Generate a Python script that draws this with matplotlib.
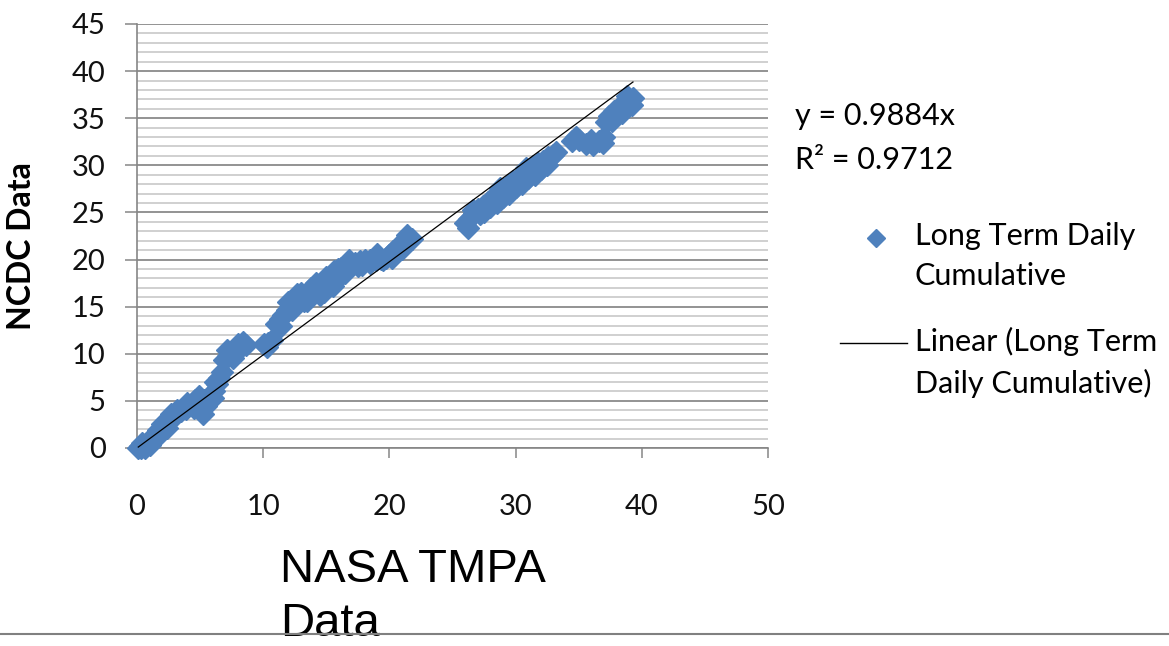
import numpy as np
import matplotlib
matplotlib.use('Agg')
from matplotlib import rc
import matplotlib.pyplot as plt
from matplotlib.lines import Line2D
from matplotlib.ticker import MultipleLocator

rc('font', **{'family': 'Lato', 'size': 21})

# NASA TMPA (x) vs NCDC (y), long term daily cumulative
nasa_tmpa = [0.1, 0.2, 0.3, 0.5, 0.4, 0.7, 0.9, 1.1, 1.3, 1.5, 1.7, 2.0, 2.2, 2.5, 2.8, 3.0, 3.2,
             0.6, 1.0, 1.6, 2.4, 2.0, 2.7,
             3.5, 3.9, 4.3, 4.6, 4.9, 5.0, 5.2, 5.5, 5.8, 6.1, 6.3, 6.5, 6.7,
             4.0, 4.5, 5.3, 6.0, 6.2,
             6.9, 7.2, 7.5, 7.9, 8.2, 8.6, 8.4, 7.1, 7.6, 8.0,
             10.1, 10.4, 10.7, 10.3,
             11.0, 11.3, 11.6, 11.9, 12.1, 12.4, 12.7, 13.0, 13.3, 13.7, 14.0, 14.3, 14.6, 14.9, 15.1,
             15.4, 15.6, 15.9, 16.2, 16.5, 16.9, 17.3, 17.7, 18.1, 18.5, 18.9, 19.3, 19.7, 20.0, 20.3,
             20.6, 20.9, 21.2, 21.5, 21.8,
             12.0, 13.5, 14.5, 15.0, 15.8, 16.5, 17.5, 18.5, 19.5,
             11.4, 12.3, 12.6, 13.2, 13.8, 14.2, 14.8, 15.5, 16.0, 16.8, 17.8, 19.0, 20.2, 21.0, 21.4,
             26.0, 26.3, 26.7, 27.0, 27.4, 27.8, 28.2, 28.6, 29.0, 29.4, 29.8, 30.2, 30.6, 31.0, 31.4,
             31.8, 32.2, 32.6, 33.0,
             27.5, 28.5, 29.5, 30.5, 31.5, 32.5,
             26.2, 26.6, 27.2, 28.0, 29.0, 30.0, 31.0, 32.0, 33.2, 28.8, 30.8,
             34.5, 35.0, 35.6, 36.1, 36.6, 37.0, 37.2, 37.4, 37.8, 38.2, 38.6, 39.0, 39.3,
             34.8, 36.0, 36.9, 37.6, 38.4, 39.2, 38.8]
ncdc = [0.0, 0.2, 0.0, 0.3, 0.5, 0.4, 0.7, 1.0, 1.2, 1.5, 1.9, 2.0, 2.4, 2.8, 3.3, 3.7, 4.0,
        0.0, 0.3, 1.2, 2.1, 2.5, 3.6,
        3.9, 4.1, 4.6, 5.1, 5.5, 4.0, 3.6, 4.5, 5.4, 6.0, 6.8, 7.4, 8.1,
        4.8, 4.2, 5.1, 5.3, 7.0,
        9.3, 9.8, 10.1, 10.3, 10.6, 10.9, 11.3, 10.4, 9.6, 11.0,
        11.0, 11.1, 11.5, 10.7,
        13.2, 13.7, 14.1, 14.6, 15.0, 15.6, 16.3, 16.5, 16.2, 16.4, 16.7, 17.0, 17.3, 17.5, 17.8,
        18.4, 18.8, 19.0, 19.1, 19.3, 19.5, 19.6, 19.8, 19.9, 20.0, 20.0, 20.1, 20.2, 20.5, 20.9,
        21.3, 21.5, 21.7, 21.9, 22.2,
        15.5, 15.6, 16.2, 18.2, 17.8, 18.6, 19.3, 19.6, 20.0,
        12.9, 14.6, 15.2, 15.6, 17.0, 17.5, 16.6, 17.2, 18.2, 20.0, 19.4, 20.6, 20.2, 21.1, 22.6,
        23.9, 24.3, 24.9, 25.4, 25.7, 26.1, 26.6, 27.0, 27.5, 27.9, 28.3, 28.7, 29.1, 29.5, 29.9,
        30.2, 30.5, 30.9, 31.1,
        25.1, 26.0, 27.0, 28.0, 29.0, 30.0,
        23.4, 25.3, 24.8, 25.6, 26.6, 27.7, 28.7, 29.6, 31.4, 27.6, 29.7,
        32.6, 32.7, 32.3, 32.2, 32.6, 33.0, 34.6, 35.2, 35.8, 36.2, 36.6, 36.9, 37.1,
        33.0, 32.7, 32.4, 34.7, 35.6, 36.4, 37.4]

trend_slope = 0.9884
r_squared = 0.9712
x_ticks = [0, 10, 20, 30, 40, 50]
y_ticks = [0, 5, 10, 15, 20, 25, 30, 35, 40, 45]
series_label = 'Long Term Daily\nCumulative'
trend_label = 'Linear (Long Term\nDaily Cumulative)'

blue = '#4F81BD'
W, H = 1169, 646


def fx(px):
    return px / W


def fy(py):
    return 1 - py / H


fig = plt.figure(figsize=(11.69, 6.46), dpi=100)
ax = fig.add_axes([fx(137), fy(448), fx(768) - fx(137), fy(24) - fy(448)])

ax.plot(nasa_tmpa, ncdc, 'D', ms=11, color=blue, mec=blue, clip_on=False, zorder=3)
xs = np.array([min(nasa_tmpa), max(nasa_tmpa)])
ax.plot(xs, trend_slope * xs, color='black', lw=0.9, zorder=4)

ax.set_xlim(0, 50)
ax.set_ylim(0, 45)
ax.set_xticks(x_ticks)
ax.set_yticks(y_ticks)
ax.yaxis.set_minor_locator(MultipleLocator(1))
ax.tick_params(axis='y', which='minor', length=0)
ax.tick_params(which='major', direction='out', color='#868686', width=1.1,
               labelcolor='#111111', labelsize=21)
ax.tick_params(axis='x', which='major', length=7, pad=26)
ax.tick_params(axis='y', which='major', length=8.5, pad=14)

for s in ['top', 'right']:
    ax.spines[s].set_visible(False)
for s in ['left', 'bottom']:
    ax.spines[s].set_color('#868686')
    ax.spines[s].set_linewidth(1.2)

ax.set_axisbelow(True)
ax.grid(axis='y', which='major', color='#8a8a8a', lw=1.3)
ax.grid(axis='y', which='minor', color='#c4c4c4', lw=1.1)

ax.set_ylabel('NCDC Data', fontweight='bold', fontsize=23)
ax.yaxis.set_label_coords(-0.160, 0.476)
ax.set_xlabel('NASA TMPA\nData', family='Liberation Sans', fontsize=34,
              ha='left', va='top', linespacing=1.28)
ax.xaxis.set_label_coords(0.2266, -0.236)

# trendline equation
fig.text(fx(795), fy(116), 'y = %.4fx' % trend_slope, va='center', fontsize=22)
fig.text(fx(795), fy(160), 'R\u00b2 = %.4f' % r_squared, va='center', fontsize=22)

# legend
fig.add_artist(Line2D([fx(876)], [fy(238)], marker='D', ms=9, color=blue, mec=blue,
                      transform=fig.transFigure))
fig.text(fx(915), fy(222), series_label, va='top', fontsize=22, linespacing=1.52)
fig.add_artist(Line2D([fx(840), fx(907)], [fy(343), fy(343)], color='black', lw=1,
                      transform=fig.transFigure))
fig.text(fx(915), fy(327), trend_label, va='top', fontsize=22, linespacing=1.52)

# separator line at the bottom
fig.add_artist(Line2D([0, 1], [fy(634), fy(634)], color='#808080', lw=1.5,
                      transform=fig.transFigure))

plt.savefig('out.png', dpi=100)
